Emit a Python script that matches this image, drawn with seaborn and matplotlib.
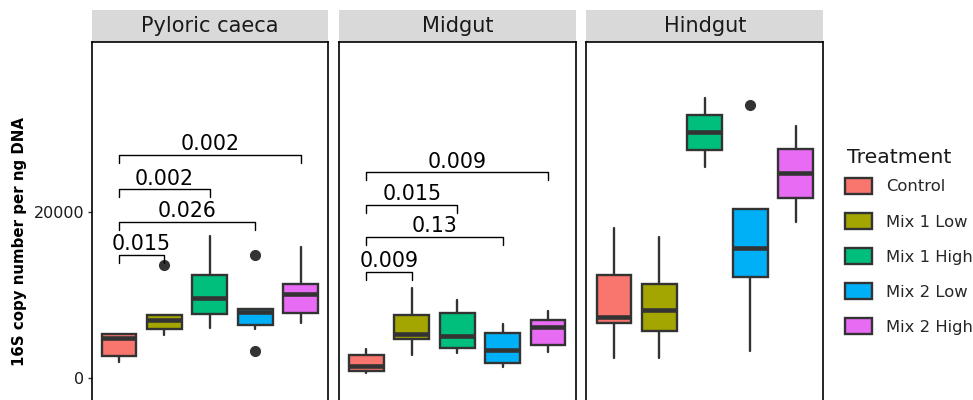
import numpy as np
import pandas as pd
import matplotlib
matplotlib.use("Agg")
import matplotlib.pyplot as plt
from matplotlib.patches import Rectangle, Patch
import seaborn as sns

segments = ["Pyloric caeca", "Midgut", "Hindgut"]
treatments = ["Control", "Mix 1 Low", "Mix 1 High", "Mix 2 Low", "Mix 2 High"]
palette = ["#F8766D", "#A3A500", "#00BF7D", "#00B0F6", "#E76BF3"]

# box statistics (treatment order as above)
pc_whislo = [1990, 5160, 6000, 5880, 6600]
pc_q1 = [2680, 5880, 7750, 6360, 7800]
pc_med = [4840, 7030, 9600, 7990, 10080]
pc_q3 = [5320, 7630, 12400, 8280, 11320]
pc_whishi = [5320, 7630, 17110, 8280, 15720]
pc_fliers = [[], [13600], [], [14800, 3280], []]

mg_whislo = [670, 2760, 3070, 1390, 3120]
mg_q1 = [880, 4750, 3600, 1800, 4000]
mg_med = [1510, 5300, 5110, 3400, 6120]
mg_q3 = [2760, 7560, 7870, 5400, 7000]
mg_whishi = [3480, 10800, 9400, 6480, 8110]
mg_fliers = [[], [], [], [], []]

hg_whislo = [2400, 2400, 25390, 3310, 18790]
hg_q1 = [6600, 5680, 27400, 12120, 21670]
hg_med = [7390, 8200, 29520, 15670, 24600]
hg_q3 = [12400, 11320, 31600, 20320, 27520]
hg_whishi = [18070, 16920, 33600, 20320, 30310]
hg_fliers = [[], [], [], [32800], []]

# pairwise comparisons against Control
sig_segment = ["Pyloric caeca"] * 4 + ["Midgut"] * 4
sig_group2 = ["Mix 1 Low", "Mix 2 Low", "Mix 1 High", "Mix 2 High"] * 2
sig_y = [14800, 18800, 22700, 26800, 12800, 17000, 20800, 24700]
sig_p = ["0.015", "0.026", "0.002", "0.002", "0.009", "0.13", "0.015", "0.009"]

edge = "#333333"

rows = []
for seg, st in zip(segments, [
        (pc_whislo, pc_q1, pc_med, pc_q3, pc_whishi, pc_fliers),
        (mg_whislo, mg_q1, mg_med, mg_q3, mg_whishi, mg_fliers),
        (hg_whislo, hg_q1, hg_med, hg_q3, hg_whishi, hg_fliers)]):
    for i, t in enumerate(treatments):
        rows.append({"Segment": seg, "Treatment": t, "whislo": st[0][i], "q1": st[1][i],
                     "med": st[2][i], "q3": st[3][i], "whishi": st[4][i], "fliers": st[5][i]})
df = pd.DataFrame(rows)


def draw_boxes(data, **kws):
    ax = plt.gca()
    data = data.set_index("Treatment").loc[treatments]
    stats = []
    for t, row in data.iterrows():
        stats.append(dict(whislo=row.whislo, q1=row.q1, med=row.med, q3=row.q3,
                          whishi=row.whishi, fliers=row.fliers, label=t))
    bp = ax.bxp(stats, positions=np.arange(1, len(stats) + 1), widths=0.76,
                patch_artist=True, showcaps=False,
                boxprops=dict(edgecolor=edge, linewidth=1.7),
                medianprops=dict(color=edge, linewidth=3.3, solid_capstyle="butt"),
                whiskerprops=dict(color=edge, linewidth=1.7),
                flierprops=dict(marker="o", markerfacecolor=edge, markeredgecolor=edge, markersize=7))
    for patch, c in zip(bp["boxes"], palette):
        patch.set_facecolor(c)


sns.set_theme(style="white")
plt.rcParams["font.family"] = ["DejaVu Sans"]

g = sns.FacetGrid(df, col="Segment", col_order=segments, sharey=True, despine=False,
                  height=4, aspect=0.6)
g.map_dataframe(draw_boxes)
g.set_titles("")
g.set_axis_labels("", "")

fig = g.figure
fig.set_size_inches(9.73, 4.0)
fig.subplots_adjust(left=91.5 / 973, right=823 / 973, bottom=0, top=1 - 42 / 400, wspace=11 / 236.7)

tick_len = 960
for k, (seg, ax) in enumerate(g.axes_dict.items()):
    ax.set_xlim(0.4, 5.6)
    ax.set_ylim(-2600, 40350)
    ax.set_xticks([])
    ax.set_yticks([0, 20000])
    for side in ["left", "right", "top"]:
        ax.spines[side].set_color("black")
        ax.spines[side].set_linewidth(1.2)
    ax.spines["bottom"].set_visible(False)
    if k == 0:
        ax.tick_params(axis="y", left=True, length=3, width=1, color=edge,
                       labelsize=11.5, labelcolor="#1a1a1a", pad=2)
    else:
        ax.tick_params(axis="y", left=False)
    strip = Rectangle((0, 1), 1, 32 / 358, transform=ax.transAxes, facecolor="#D9D9D9",
                      edgecolor="none", clip_on=False)
    ax.add_patch(strip)
    ax.text(0.5, 1 + 16 / 358, seg, transform=ax.transAxes, ha="center", va="center",
            fontsize=15, color="#1a1a1a")

    for s, g2, y, p in zip(sig_segment, sig_group2, sig_y, sig_p):
        if s != seg:
            continue
        x1 = 1
        x2 = treatments.index(g2) + 1
        ax.plot([x1, x1, x2, x2], [y - tick_len, y, y, y - tick_len], color="black", lw=1.0)
        ax.text((x1 + x2) / 2, y + 550, p, ha="center", va="baseline", fontsize=14.8, color="black")

fig.text(20 / 973, 1 - 241 / 400, "16S copy number per ng DNA", rotation=90, ha="center",
         va="center", fontsize=10.8, fontweight="bold", color="black")

# legend title drawn separately so its gap to the keys matches
fig.text(847 / 973, 1 - 157 / 400, "Treatment", ha="left", va="center", fontsize=14.7,
         color="#1a1a1a")
handles = [Patch(facecolor=c, edgecolor=edge, linewidth=1.7) for c in palette]
fig.legend(handles, treatments, loc="upper left",
           bbox_to_anchor=(845 / 973, 1 - 178 / 400), frameon=False, fontsize=11.8,
           handlelength=1.65, handleheight=1.1, labelspacing=1.14,
           handletextpad=0.85, borderpad=0, borderaxespad=0)

fig.savefig("out.png", dpi=100)
